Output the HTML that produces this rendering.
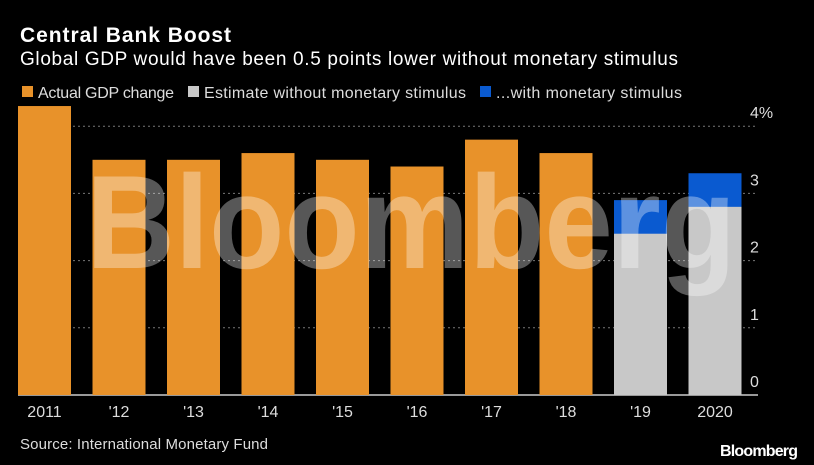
<!DOCTYPE html>
<html><head><meta charset="utf-8"><style>
html,body{margin:0;padding:0;background:#000;}
svg{display:block;font-family:"Liberation Sans",sans-serif;}
</style></head><body>
<svg id="chart" width="814" height="465" viewBox="0 0 814 465">
<rect width="814" height="465" fill="#000"/>
<text x="20" y="42" fill="#fff" font-size="21" font-weight="bold" textLength="211">Central Bank Boost</text>
<text x="20" y="65" fill="#fff" font-size="19" textLength="658">Global GDP would have been 0.5 points lower without monetary stimulus</text>
<g>
<rect x="22" y="86" width="11" height="11" fill="#e8922a"/>
<text x="38" y="98" fill="#ddd" font-size="16" textLength="136">Actual GDP change</text>
<rect x="188" y="86" width="11" height="11" fill="#c8c8c8"/>
<text x="204" y="98" fill="#ddd" font-size="16" textLength="262">Estimate without monetary stimulus</text>
<rect x="480" y="86" width="11" height="11" fill="#0a5ad0"/>
<text x="496" y="98" fill="#ddd" font-size="16" textLength="186">...with monetary stimulus</text>
</g>
<g id="grid"></g>
<g id="bars"></g>
<g id="xlabels"></g>
<text x="86" y="268" fill="rgba(255,255,255,0.34)" font-size="133" font-weight="bold" textLength="650" lengthAdjust="spacingAndGlyphs">Bloomberg</text>
<text x="20" y="449" fill="#ddd" font-size="15" textLength="248">Source: International Monetary Fund</text>
<text x="798" y="456" fill="#fff" font-size="16" font-weight="bold" text-anchor="end" textLength="78">Bloomberg</text>
</svg>
<script>
const categories = ["2011","'12","'13","'14","'15","'16","'17","'18","'19","2020"];
const actualValues = [4.3,3.5,3.5,3.6,3.5,3.4,3.8,3.6,null,null];
const withoutStimulusValues = [null,null,null,null,null,null,null,null,2.4,2.8];
const withStimulusValues = [null,null,null,null,null,null,null,null,2.9,3.3];
const yTicks = [0,1,2,3,4];
const yTickLabels = ["0","1","2","3","4%"];

const NS="http://www.w3.org/2000/svg";
const base=395, perUnit=67.2, x0=18, step=74.5, bw=53, gridRight=758;
const y=v=>base-v*perUnit;
const xb=i=>x0+i*step;
function mk(tag,attrs,parent){const e=document.createElementNS(NS,tag);for(const k in attrs)e.setAttribute(k,attrs[k]);parent.appendChild(e);return e;}
const grid=document.getElementById('grid'), bars=document.getElementById('bars'), xl=document.getElementById('xlabels');
yTicks.forEach((t,i)=>{
  const l=mk('line',{x1:18,x2:gridRight,y1:y(t),y2:y(t),stroke:t===0?'#ccc':'#777','stroke-width':t===0?1.5:1,'stroke-dasharray':t===0?'none':'2,3'},grid);
  
  
  const tx=mk('text',{x:750,y:y(t)-8,fill:'#ddd','font-size':16},grid);
  tx.textContent=yTickLabels[i];
  
  
});
categories.forEach((c,i)=>{
  const x=xb(i);
  if(actualValues[i]!=null){
    const r=mk('rect',{x:x,y:y(actualValues[i]),width:bw,height:base-y(actualValues[i]),fill:'#e8922a'},bars);
    
    
  }
  if(withStimulusValues[i]!=null){
    const r=mk('rect',{x:x,y:y(withStimulusValues[i]),width:bw,height:base-y(withStimulusValues[i]),fill:'#0a5ad0'},bars);
    
    
  }
  if(withoutStimulusValues[i]!=null){
    const r=mk('rect',{x:x,y:y(withoutStimulusValues[i]),width:bw,height:base-y(withoutStimulusValues[i]),fill:'#c8c8c8'},bars);
    
    
  }
  const t=mk('text',{x:x+bw/2,y:417,fill:'#ddd','font-size':16,'text-anchor':'middle'},xl);
  t.textContent=c;
  
  
});
</script>
</body></html>
